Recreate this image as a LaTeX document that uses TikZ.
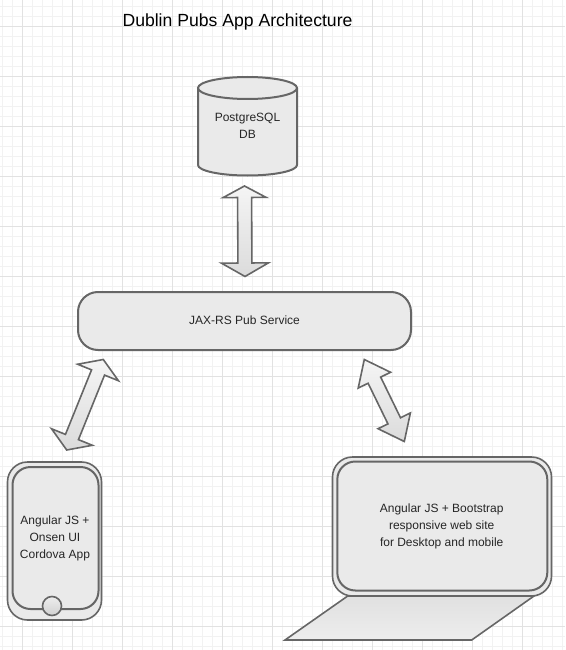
\documentclass[tikz,border=0pt]{standalone}
\usepackage{fontspec}
\setmainfont{Liberation Sans}
\usetikzlibrary{calc}
\definecolor{edge}{HTML}{666666}
\definecolor{bodyfill}{HTML}{EAEAEA}
\definecolor{gridminor}{HTML}{F2F2F2}
\definecolor{gridmajor}{HTML}{E2E2E2}
\newcommand{\blockarrow}[7]{%
  \draw[arrowbody]
    (#1)
    -- ($(#1)!#5pt!(#2)!#4pt!90:(#2)$)
    -- ($(#1)!#5pt!(#2)!#3pt!90:(#2)$)
    -- ($(#2)!#7pt!(#1)!#3pt!-90:(#1)$)
    -- ($(#2)!#7pt!(#1)!#6pt!-90:(#1)$)
    -- (#2)
    -- ($(#2)!#7pt!(#1)!#6pt!90:(#1)$)
    -- ($(#2)!#7pt!(#1)!#3pt!90:(#1)$)
    -- ($(#1)!#5pt!(#2)!#3pt!-90:(#2)$)
    -- ($(#1)!#5pt!(#2)!#4pt!-90:(#2)$)
    -- cycle;}
\tikzset{
  body/.style={draw=edge, line width=2pt, fill=bodyfill},
  thinbody/.style={draw=edge, line width=1.6pt},
  arrowbody/.style={draw=edge, line width=1.6pt, line join=miter, top color=white!96!black, bottom color=white!86!black},
  label/.style={align=center, inner sep=0pt, text=black!85, font=\fontsize{12}{17}\selectfont},
  titletext/.style={inner sep=0pt, text=black, font=\fontsize{17.6}{20}\selectfont}
}
\begin{document}
\begin{tikzpicture}[x=1pt,y=-1pt]
\useasboundingbox (0,0) rectangle (565,650);
\clip (0,0) rectangle (565,650);
\fill[white] (0,0) rectangle (565,650);
% grid
\foreach \gx in {0,...,56} \draw[gridminor,line width=1pt] ({2.5+10*\gx},0) -- ({2.5+10*\gx},650);
\foreach \gy in {0,...,64} \draw[gridminor,line width=1pt] (0,{6.5+10*\gy}) -- (565,{6.5+10*\gy});
\foreach \gx in {0,...,10} \draw[gridmajor,line width=1pt] ({22.5+50*\gx},0) -- ({22.5+50*\gx},650);
\foreach \gy in {0,...,12} \draw[gridmajor,line width=1pt] (0,{26.5+50*\gy}) -- (565,{26.5+50*\gy});
% title
\node[titletext,anchor=base] (title) at (237.5,27) {Dublin Pubs App Architecture};
% database
\draw[body] (198,88) -- (198,165) arc[start angle=180,end angle=0,x radius=49.5,y radius=10.5] -- (297,88);
\draw[body] (247.5,88) ellipse[x radius=49.5,y radius=11];
\node[label] (db) at (247.5,126) {PostgreSQL\\DB};
% service
\node[body,rounded corners=20pt,minimum width=333pt,minimum height=58pt,label] (svc) at (244.5,321) {};
\node[label] (svctext) at (244.5,320) {JAX-RS Pub Service};
% phone
\node[thinbody,fill=bodyfill,rounded corners=20pt,minimum width=94pt,minimum height=158pt,inner sep=0pt] (phone) at (54.5,541) {};
\node[body,rounded corners=18pt,minimum width=86pt,minimum height=142pt,inner sep=0pt] (screen) at (55.5,538) {};
\node[thinbody,circle,top color=white!93!black,bottom color=white!82!black,minimum size=19pt,inner sep=0pt] (button) at (52,606) {};
\node[label] (phonetext) at (55,538.5) {Angular JS +\\Onsen UI\\Cordova App};
% laptop
\draw[thinbody,top color=white!88!black,bottom color=white!93!black] (347.7,596) coordinate (b1) -- (534,596) -- (471.7,640) -- (285,640) -- cycle;
\node[thinbody,fill=bodyfill,rounded corners=20pt,minimum width=219pt,minimum height=139pt,inner sep=0pt] (laptop) at (442,526.5) {};
\node[body,rounded corners=18pt,minimum width=210pt,minimum height=129pt,inner sep=0pt] (lscreen) at (442.3,526) {};
\node[label] (laptoptext) at (441.7,526) {Angular JS + Bootstrap\\responsive web site\\for Desktop and mobile};
% block arrows
\coordinate (a1) at (244.5,186);
\coordinate (a2) at (245,276.5);
\blockarrow{a1}{a2}{7}{21.5}{11.5}{23.5}{13.5}
\coordinate (l1) at (103.3,359.5);
\coordinate (l2) at (66.7,450);
\blockarrow{l1}{l2}{7}{22}{14}{22}{14}
\coordinate (r1) at (364.3,359.5);
\coordinate (r2) at (404.3,441.5);
\blockarrow{r1}{r2}{7}{18}{23}{18}{23}
\end{tikzpicture}
\end{document}
